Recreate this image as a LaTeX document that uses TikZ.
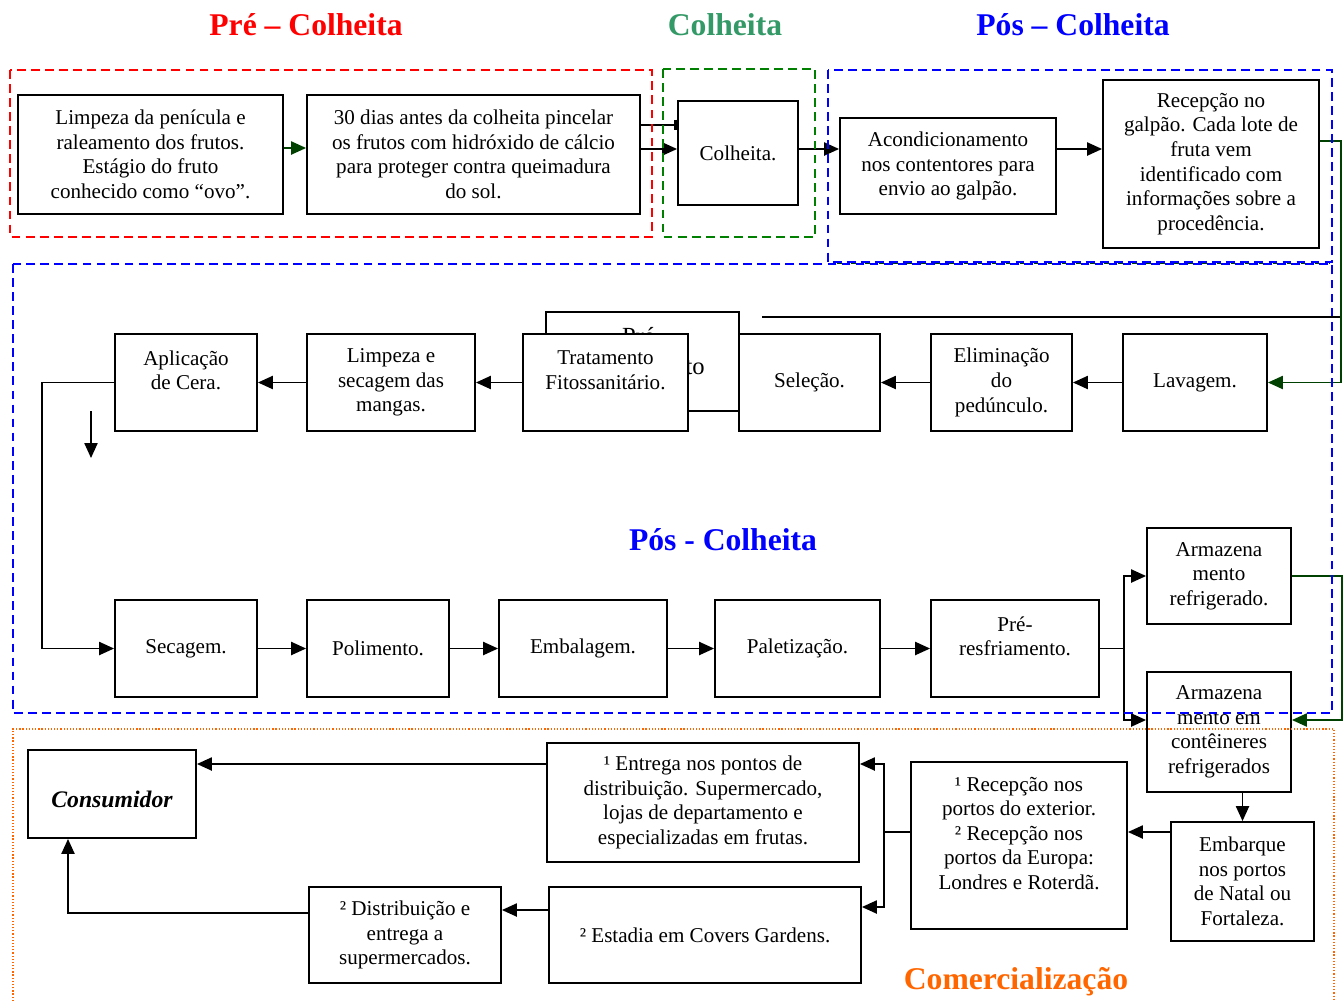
\documentclass[tikz,border=0pt]{standalone}
\usepackage{fontspec}
\setmainfont{Liberation Serif}
\usepackage{tikz}
\usetikzlibrary{arrows.meta,positioning}
\definecolor{darkleaf}{RGB}{0,64,0}
\definecolor{harvest}{RGB}{51,153,102}
\definecolor{market}{RGB}{255,102,0}
\tikzset{
  stage/.style={
    shape = rectangle,
    draw,
    fill = white,
    line width = 1.1pt,
    align = center,
    inner sep = 0pt,
    font = \fontsize{12pt}{14pt}\selectfont
  },
}
\tikzset{
  flow/.style={
    line width = 0.9pt,
    -{Triangle[length=8.5pt,width=7.5pt]}
  },
  wire/.style={
    line width = 0.9pt
  },
  zone/.style={
    line width = 0.85pt,
    dash pattern = on 5pt off 3pt
  },
  stitle/.style={
    font = \fontsize{18pt}{21pt}\selectfont\bfseries,
    inner sep = 0pt
  }
}

\begin{document}
\begin{tikzpicture}[x=0.02cm,y=-0.02cm]
    \useasboundingbox (0,0) rectangle (1344,1001);
    % colheita
    \node[stage, minimum width=5.30cm, minimum height=2.38cm] (limpeza) at (150.5,154.5) {Limpeza da penícula e\\raleamento dos frutos.\\Estágio do fruto\\conhecido como “ovo”.};
    \node[stage, minimum width=6.66cm, minimum height=2.38cm] (pincelar) at (473.5,154.5) {30 dias antes da colheita pincelar\\os frutos com hidróxido de cálcio\\para proteger contra queimadura\\do sol.};
    \node[stage, minimum width=2.40cm, minimum height=2.08cm] (colheita) at (738,153) {Colheita.};
    \node[stage, minimum width=4.32cm, minimum height=1.92cm] (acond) at (948,166) {Acondicionamento\\nos contentores para\\envio ao galpão.};
    \node[stage, minimum width=4.32cm, minimum height=3.36cm] (recep) at (1211,164) {Recepção no\\galpão. Cada lote de\\fruta vem\\identificado com\\informações sobre a\\procedência.};
    % galpao
    \node[stage, minimum width=2.84cm, minimum height=1.94cm] (aplic) at (186,382.5) {Aplicação\\de Cera.\\\mbox{}};
    \node[stage, minimum width=3.36cm, minimum height=1.94cm] (limpE) at (391,382.5) {Limpeza e\\secagem das\\mangas.};
    \node[stage, font=\fontsize{14pt}{17pt}\selectfont, text depth=12pt, minimum width=3.86cm, minimum height=1.98cm] (preOld) at (642.5,361.5) {Pré-\\resfriamento};
    \node[stage, minimum width=3.30cm, minimum height=1.94cm] (trat) at (605.5,382.5) {Tratamento\\Fitossanitário.\\\mbox{}};
    \node[stage, minimum width=2.82cm, minimum height=1.94cm] (selec) at (809.5,382.5) {Seleção.};
    \node[stage, minimum width=2.82cm, minimum height=1.94cm] (elim) at (1001.5,382.5) {Eliminação\\do\\pedúnculo.};
    \node[stage, minimum width=2.88cm, minimum height=1.94cm] (lavag) at (1195,382.5) {Lavagem.};
    \node[stage, minimum width=2.84cm, minimum height=1.94cm] (secag) at (186,648.5) {Secagem.};
    \node[stage, minimum width=2.84cm, minimum height=1.94cm] (polim) at (378,648.5) {Polimento.};
    \node[stage, minimum width=3.36cm, minimum height=1.94cm] (embal) at (583,648.5) {Embalagem.};
    \node[stage, minimum width=3.30cm, minimum height=1.94cm] (palet) at (797.5,648.5) {Paletização.};
    \node[stage, minimum width=3.36cm, minimum height=1.94cm] (preres) at (1015,648.5) {Pré-\\resfriamento.\\\mbox{}};
    \node[stage, minimum width=2.88cm, minimum height=1.92cm] (arm1) at (1219,576) {Armazena\\mento\\refrigerado.};
    \node[stage, minimum width=2.88cm, minimum height=2.40cm] (arm2) at (1219,732) {Armazena\\mento em\\contêineres\\refrigerados};
    % comercio
    \node[stage, minimum width=2.86cm, minimum height=2.38cm] (embarq) at (1242.5,881.5) {Embarque\\nos portos\\de Natal ou\\Fortaleza.};
    \node[stage, minimum width=4.32cm, minimum height=3.34cm] (recext) at (1019,845.5) {¹ Recepção nos\\portos do exterior.\\² Recepção nos\\portos da Europa:\\Londres e Roterdã.\\\mbox{}};
    \node[stage, minimum width=6.24cm, minimum height=2.38cm] (entrega) at (703,802.5) {¹ Entrega nos pontos de\\distribuição. Supermercado,\\lojas de departamento e\\especializadas em frutas.};
    \node[stage, minimum width=6.24cm, minimum height=1.92cm] (estadia) at (705,935) {² Estadia em Covers Gardens.};
    \node[stage, minimum width=3.84cm, minimum height=1.92cm] (distrib) at (405,935) {² Distribuição e\\entrega a\\supermercados.};
    \node[stage, font=\fontsize{13.5pt}{16pt}\selectfont\bfseries\itshape, text height=15pt, minimum width=3.36cm, minimum height=1.76cm] (consum) at (112,794) {Consumidor};

    \coordinate (lvlA) at (0,148);
    \coordinate (lvlB) at (0,125);
    \coordinate (lvlG) at (0,141);
    \coordinate (lvlC) at (0,720);
    \coordinate (lvlD) at (0,832);
    \coordinate (lvlE) at (0,764);
    \coordinate (lvlF) at (0,907);
    \coordinate (lvlH) at (0,910);
    \coordinate (colK) at (68,0);
    \coordinate (strayA) at (91,411);
    \coordinate (strayB) at (91,458);
    \coordinate (wireA) at (762,317);
    \coordinate (wireB) at (1340,317);

    \draw[flow, darkleaf] (limpeza.east |- lvlA) -- (pincelar.west |- lvlA);
    \draw[wire, -{Bar[width=6pt,line width=1.6pt]}] (pincelar.east |- lvlB) -- (colheita.west |- lvlB);
    \draw[flow] (pincelar.east |- 0,149) -- (colheita.west |- 0,149);
    \draw[flow] (colheita.east |- 0,149) -- (acond.west |- 0,149);
    \draw[flow] (acond.east |- 0,149) -- (recep.west |- 0,149);
    \draw[flow, darkleaf] (recep.east |- lvlG) -- ++(21,0) |- (lavag.east);
    \draw[wire] (wireA) -- (wireB);
    \draw[flow] (lavag.west) -- (elim.east);
    \draw[flow] (elim.west) -- (selec.east);
    \draw[flow] (trat.west) -- (limpE.east);
    \draw[flow] (limpE.west) -- (aplic.east);
    \draw[flow] (aplic.west) -- ++(-72,0) |- (secag.west);
    \draw[flow] (strayA) -- (strayB);
    \draw[flow] (secag.east) -- (polim.west);
    \draw[flow] (polim.east) -- (embal.west);
    \draw[flow] (embal.east) -- (palet.west);
    \draw[flow] (palet.east) -- (preres.west);
    \draw[flow] (preres.east) -- ++(24,0) |- (arm1.west);
    \draw[flow] (preres.east) -- ++(24,0) |- (arm2.west |- lvlC);
    \draw[flow, darkleaf] (arm1.east) -- ++(50,0) |- (arm2.east |- lvlC);
    \draw[flow] (embarq.north |- arm2.south) -- (embarq.north);
    \draw[flow] (embarq.west |- lvlD) -- (recext.east |- lvlD);
    \draw[flow] (recext.west |- lvlD) -- ++(-26,0) |- (entrega.east |- lvlE);
    \draw[flow] (recext.west |- lvlD) -- ++(-26,0) |- (estadia.east |- lvlF);
    \draw[flow] (estadia.west |- lvlH) -- (distrib.east |- lvlH);
    \draw[flow] (entrega.west |- lvlE) -- (consum.east |- lvlE);
    \draw[flow] (distrib.west |- 0,913) -| (colK |- consum.south);

    \draw[zone, red] (10,70) rectangle (652,237);
    \draw[zone, green!50!black] (663,69) rectangle (815,237);
    \draw[zone, blue] (828,70) rectangle (1332,262);
    \draw[zone, darkleaf, dash phase=4pt] (830,263.5) -- (1330,263.5);
    \draw[zone, blue] (13,264) rectangle (1332,713);
    \draw[line width=0.8pt, market, dash pattern=on 0.7pt off 1.1pt] (13,1001) |- (1334,729) -- (1334,1001);

    \node[stitle, red] (preTitle) at (306,25) {Pré – Colheita};
    \node[stitle, harvest] (colTitle) at (725,25) {Colheita};
    \node[stitle, blue] (posTitle) at (1073,25) {Pós – Colheita};
    \node[stitle, blue] (galTitle) at (723,540) {Pós - Colheita};
    \node[stitle, market] (comTitle) at (1016,982) {Comercialização};
\end{tikzpicture}
\end{document}
